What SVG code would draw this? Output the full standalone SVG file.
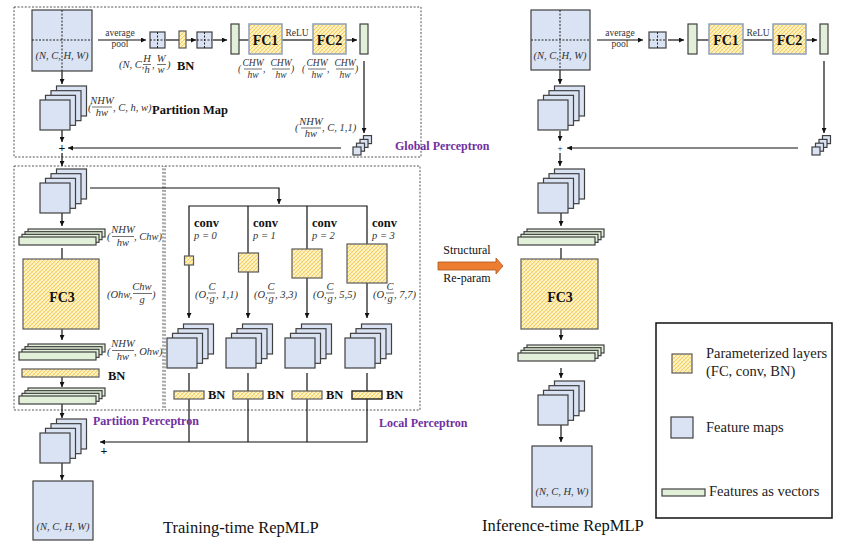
<svg xmlns="http://www.w3.org/2000/svg" width="859" height="547" viewBox="0 0 859 547" font-family="Liberation Serif, DejaVu Serif, serif">
<style>
.fm{fill:#DAE3F3;stroke:#404040;stroke-width:1.2}
.par{fill:url(#hatch);stroke:#5a5a5a;stroke-width:1.2}
.parb{fill:url(#hatch);stroke:#8FA0BA;stroke-width:1.5}
.vec{fill:#E2F0D9;stroke:#404040;stroke-width:1.2}
.ln{fill:none;stroke:#111;stroke-width:1.2}
.ar{marker-end:url(#ah)}
.dbox{fill:none;stroke:#555;stroke-width:1;stroke-dasharray:2 1.6}
.dx{stroke:#222;stroke-width:1;stroke-dasharray:2 1.5}
text{font-family:'Liberation Serif','DejaVu Serif',serif;fill:#111}
.m{font-style:italic;font-size:10.5px;fill:#333}
.f9{font-size:9.5px}
.mc{text-anchor:middle}
.b{font-weight:bold;font-size:12.5px}
.fc{font-weight:bold;font-size:14px;text-anchor:middle}
.pur{fill:#7030A0;font-weight:bold;font-size:12px}
.sm{font-size:9.5px;fill:#333;text-anchor:middle}
.fr{stroke:#333;stroke-width:0.7}
.lg{font-size:14.5px;fill:#222}
.ttl{font-size:16.5px;fill:#111}
</style>
<defs>
<pattern id="hatch" patternUnits="userSpaceOnUse" width="4" height="4">
<rect width="4" height="4" fill="#FFF3C8"/>
<path d="M0,4L4,0M-1,1L1,-1M3,5L5,3" stroke="#F3C13E" stroke-width="0.8"/>
<path d="M0,0L4,4M-1,3L1,5M3,-1L5,1" stroke="#F9DA80" stroke-width="0.6"/>
</pattern>
<marker id="ah" viewBox="0 0 6 6" refX="6" refY="3" markerWidth="5" markerHeight="5" orient="auto" markerUnits="userSpaceOnUse">
<path d="M0,0L6,3L0,6z" fill="#111"/>
</marker>
<g id="stk">
<rect class="fm" x="16.5" y="-14" width="30" height="30"/>
<rect class="fm" x="11" y="-9.33" width="30" height="30"/>
<rect class="fm" x="5.5" y="-4.67" width="30" height="30"/>
<rect class="fm" x="0" y="0" width="30" height="30"/>
</g>
<g id="stks">
<rect class="fm" x="10.5" y="-11.4" width="8" height="8"/>
<rect class="fm" x="7" y="-7.6" width="8" height="8"/>
<rect class="fm" x="3.5" y="-3.8" width="8" height="8"/>
<rect class="fm" x="0" y="0" width="8" height="8"/>
</g>
<g id="vst">
<rect class="vec" x="9" y="-8" width="77" height="8"/>
<rect class="vec" x="6" y="-5.33" width="77" height="8"/>
<rect class="vec" x="3" y="-2.67" width="77" height="8"/>
<rect class="vec" x="0" y="0" width="77" height="8"/>
</g>
</defs>
<rect width="859" height="547" fill="#fff"/>

<!-- dashed module boxes -->
<g id="boxes">
<rect class="dbox" x="14" y="7" width="407" height="150"/>
<rect class="dbox" x="14" y="166" width="149" height="244"/>
<rect class="dbox" x="165" y="166" width="255" height="244"/>
</g>

<!-- connectors -->
<g id="connectors">
<path class="ln ar" d="M62,71V84"/>
<path class="ln ar" d="M98,40H146"/>
<path class="ln" d="M166,40H179"/>
<path class="ln ar" d="M186,40H196"/>
<path class="ln ar" d="M213,40H227"/>
<path class="ln" d="M239,40H249"/>
<path class="ln" d="M282,40H313"/>
<path class="ln ar" d="M346,40H357"/>
<path class="ln ar" d="M364,61V133"/>
<path class="ln ar" d="M341,148H68"/>
<path class="ln ar" d="M62,130V142"/>
<path class="ln ar" d="M62,153V166"/>
<path class="ln ar" d="M90,188H279V204"/>
<path class="ln" d="M189,256V206H367V244"/>
<path class="ln" d="M248,206V253"/>
<path class="ln" d="M307,206V249"/>
<path class="ln ar" d="M189,265V318"/>
<path class="ln ar" d="M248,272V318"/>
<path class="ln ar" d="M307,278V318"/>
<path class="ln ar" d="M367,283V318"/>
<path class="ln" d="M189,373V442"/>
<path class="ln" d="M248,373V442"/>
<path class="ln" d="M307,373V442"/>
<path class="ln ar" d="M367,373V442H100"/>
<path class="ln ar" d="M62,213V226"/>
<path class="ln" d="M62,248V259"/>
<path class="ln ar" d="M62,329V340"/>
<path class="ln ar" d="M62,377V387"/>
<path class="ln ar" d="M62,404V418"/>
<path class="ln ar" d="M62,463V480"/>
<!-- inference -->
<path class="ln ar" d="M560,70V84"/>
<path class="ln ar" d="M597,40H643"/>
<path class="ln ar" d="M668,40H684"/>
<path class="ln" d="M697,40H709"/>
<path class="ln" d="M743,40H773"/>
<path class="ln ar" d="M806,40H817"/>
<path class="ln ar" d="M824,61V133"/>
<path class="ln ar" d="M798,148H567"/>
<path class="ln ar" d="M560,131V141"/>
<path class="ln ar" d="M560,153V166"/>
<path class="ln ar" d="M561,213V226"/>
<path class="ln" d="M561,248V259"/>
<path class="ln ar" d="M561,329V340"/>
<path class="ln ar" d="M561,368V378"/>
<path class="ln ar" d="M561,425V442"/>
</g>

<!-- ===== Training-time: Global Perceptron ===== -->
<g id="input-train">
<rect class="fm" x="32" y="10" width="60" height="61"/>
<text class="m mc" x="62" y="59">(N, C, H, W)</text>
<line class="dx" x1="62" y1="10" x2="62" y2="71"/>
<line class="dx" x1="32" y1="40" x2="92" y2="40"/>
</g>
<g id="partition-map">
<use href="#stk" x="40" y="100"/>
<text class="m" x="88" y="111">(</text>
<text class="m mc" x="102" y="104">NHW</text>
<line class="fr" x1="92" y1="107" x2="112" y2="107"/>
<text class="m mc" x="102" y="116">hw</text>
<text class="m" x="113" y="111">, C, h, w)</text>
<text class="b" x="152" y="114" font-size="13">Partition Map</text>
</g>
<g id="plus-global">
<text class="mc" x="62" y="152" font-size="12" font-weight="bold">+</text>
</g>
<g id="avgpool-label">
<text class="sm" x="120" y="36">average</text>
<text class="sm" x="120" y="47">pool</text>
</g>
<g id="pooled1">
<rect class="fm" x="150" y="32" width="15" height="16"/>
<line class="dx" x1="157.5" y1="32" x2="157.5" y2="48"/>
<line class="dx" x1="150" y1="40" x2="165" y2="40"/>
<text class="m" x="119" y="68">(N, C,</text>
<text class="m mc" x="147" y="62">H</text>
<line class="fr" x1="143" y1="64.5" x2="151" y2="64.5"/>
<text class="m mc" x="147" y="73">h</text>
<text class="m" x="152" y="68">,</text>
<text class="m mc" x="161" y="62">W</text>
<line class="fr" x1="157" y1="64.5" x2="166" y2="64.5"/>
<text class="m mc" x="161" y="73">w</text>
<text class="m" x="167" y="68">)</text>
</g>
<g id="bn-global">
<rect class="par" x="179" y="31" width="7" height="17"/>
<text class="b" x="177" y="70">BN</text>
</g>
<g id="pooled2">
<rect class="fm" x="197" y="32" width="15" height="16"/>
<line class="dx" x1="204.5" y1="32" x2="204.5" y2="48"/>
<line class="dx" x1="197" y1="40" x2="212" y2="40"/>
</g>
<g id="vec-in">
<rect class="vec" x="231" y="24" width="8" height="30"/>
</g>
<g id="fc1">
<rect class="parb" x="249" y="24" width="33" height="30"/>
<text class="fc" x="265.5" y="44.5">FC1</text>
<text class="m f9" x="238" y="72">(</text>
<text class="m f9 mc" x="253" y="66">CHW</text>
<line class="fr" x1="244" y1="69" x2="262" y2="69"/>
<text class="m f9 mc" x="253" y="78">hw</text>
<text class="m f9" x="263" y="72">,</text>
<text class="m f9 mc" x="281" y="66">CHW</text>
<line class="fr" x1="272" y1="69" x2="290" y2="69"/>
<text class="m f9 mc" x="281" y="78">hw</text>
<text class="m f9" x="291" y="72">)</text>
</g>
<g id="relu">
<text class="sm" x="297" y="36">ReLU</text>
</g>
<g id="fc2">
<rect class="parb" x="313" y="24" width="33" height="30"/>
<text class="fc" x="329.5" y="44.5">FC2</text>
<text class="m f9" x="302" y="72">(</text>
<text class="m f9 mc" x="317" y="66">CHW</text>
<line class="fr" x1="308" y1="69" x2="326" y2="69"/>
<text class="m f9 mc" x="317" y="78">hw</text>
<text class="m f9" x="327" y="72">,</text>
<text class="m f9 mc" x="345" y="66">CHW</text>
<line class="fr" x1="336" y1="69" x2="354" y2="69"/>
<text class="m f9 mc" x="345" y="78">hw</text>
<text class="m f9" x="355" y="72">)</text>
</g>
<g id="vec-out">
<rect class="vec" x="360" y="24" width="8" height="30"/>
</g>
<g id="global-out">
<use href="#stks" x="353" y="147"/>
<text class="m" x="295" y="131">(</text>
<text class="m mc" x="311" y="125">NHW</text>
<line class="fr" x1="301" y1="128" x2="321" y2="128"/>
<text class="m mc" x="311" y="137">hw</text>
<text class="m" x="322" y="131">, C, 1,1)</text>
</g>
<g id="label-global">
<text class="pur" x="395" y="150">Global Perceptron</text>
</g>

<!-- ===== Partition Perceptron ===== -->
<g id="partition-in">
<use href="#stk" x="40" y="183"/>
</g>
<g id="vec1">
<use href="#vst" x="19" y="237"/>
<text class="m" x="107" y="240">(</text>
<text class="m mc" x="123" y="233">NHW</text>
<line class="fr" x1="112" y1="236.5" x2="134" y2="236.5"/>
<text class="m mc" x="123" y="246">hw</text>
<text class="m" x="134" y="240">, Chw)</text>
</g>
<g id="fc3">
<rect class="par" x="23" y="259" width="76" height="70"/>
<text class="fc" x="62" y="302">FC3</text>
<text class="m" x="107" y="298">(Ohw,</text>
<text class="m mc" x="142" y="290">Chw</text>
<line class="fr" x1="133" y1="293.5" x2="152" y2="293.5"/>
<text class="m mc" x="142" y="303">g</text>
<text class="m" x="152" y="298">)</text>
</g>
<g id="vec2">
<use href="#vst" x="19" y="352"/>
<text class="m" x="107" y="355">(</text>
<text class="m mc" x="123" y="347">NHW</text>
<line class="fr" x1="112" y1="350.5" x2="134" y2="350.5"/>
<text class="m mc" x="123" y="360">hw</text>
<text class="m" x="134" y="355">, Ohw)</text>
</g>
<g id="bn-partition">
<rect class="par" x="22" y="369" width="77" height="8"/>
<text class="b" x="108" y="380">BN</text>
</g>
<g id="vec3">
<use href="#vst" x="19" y="396"/>
</g>
<g id="label-partition">
<text class="pur" x="93" y="425">Partition Perceptron</text>
</g>

<!-- ===== Local Perceptron ===== -->
<g id="branch-p0">
<text class="b" x="194" y="227">conv</text>
<text class="m" x="194" y="239">p = 0</text>
<rect class="par" x="184.5" y="256" width="9" height="9"/>
<text class="m" x="195" y="298">(O,</text>
<text class="m mc" x="212" y="290">C</text>
<line class="fr" x1="208" y1="293" x2="216" y2="293"/>
<text class="m mc" x="212" y="302">g</text>
<text class="m" x="216" y="298">, 1,1)</text>
<use href="#stk" x="167" y="338"/>
<rect class="par" x="174" y="391" width="30" height="8"/>
<text class="b" x="208" y="399">BN</text>
</g>
<g id="branch-p1">
<text class="b" x="253" y="227">conv</text>
<text class="m" x="253" y="239">p = 1</text>
<rect class="par" x="238.5" y="253" width="20" height="19"/>
<text class="m" x="254" y="298">(O,</text>
<text class="m mc" x="271" y="290">C</text>
<line class="fr" x1="267" y1="293" x2="275" y2="293"/>
<text class="m mc" x="271" y="302">g</text>
<text class="m" x="275" y="298">, 3,3)</text>
<use href="#stk" x="226" y="338"/>
<rect class="par" x="233" y="391" width="30" height="8"/>
<text class="b" x="267" y="399">BN</text>
</g>
<g id="branch-p2">
<text class="b" x="312" y="227">conv</text>
<text class="m" x="312" y="239">p = 2</text>
<rect class="par" x="292" y="249" width="30" height="29"/>
<text class="m" x="313" y="298">(O,</text>
<text class="m mc" x="330" y="290">C</text>
<line class="fr" x1="326" y1="293" x2="334" y2="293"/>
<text class="m mc" x="330" y="302">g</text>
<text class="m" x="334" y="298">, 5,5)</text>
<use href="#stk" x="285" y="338"/>
<rect class="par" x="292" y="391" width="30" height="8"/>
<text class="b" x="326" y="399">BN</text>
</g>
<g id="branch-p3">
<text class="b" x="372" y="227">conv</text>
<text class="m" x="372" y="239">p = 3</text>
<rect class="par" x="347" y="244" width="40" height="39"/>
<text class="m" x="373" y="298">(O,</text>
<text class="m mc" x="390" y="290">C</text>
<line class="fr" x1="386" y1="293" x2="394" y2="293"/>
<text class="m mc" x="390" y="302">g</text>
<text class="m" x="394" y="298">, 7,7)</text>
<use href="#stk" x="345" y="338"/>
<rect class="par" x="352" y="391" width="30" height="8" style="stroke:#222;stroke-width:1.4"/>
<text class="b" x="386" y="399">BN</text>
</g>
<g id="label-local">
<text class="pur" x="379" y="427">Local Perceptron</text>
</g>

<!-- ===== Training output ===== -->
<g id="sum-train">
<text class="mc" x="104" y="455" font-size="12" font-weight="bold">+</text>
<use href="#stk" x="40" y="433"/>
</g>
<g id="output-train">
<rect class="fm" x="33" y="481" width="60" height="59"/>
<text class="m mc" x="63" y="530">(N, C, H, W)</text>
</g>
<text class="ttl" x="163" y="533">Training-time RepMLP</text>

<!-- ===== Structural re-param arrow ===== -->
<g id="reparam">
<path d="M438,262H496V258L503,266L496,274V270H438Z" fill="#ED7D31" stroke="#A9561E" stroke-width="0.8"/>
<text class="mc" x="467" y="254" font-size="12" fill="#222">Structural</text>
<text class="mc" x="467" y="282" font-size="12" fill="#222">Re-param</text>
</g>

<!-- ===== Inference-time ===== -->
<g id="input-inf">
<rect class="fm" x="531" y="10" width="59" height="60"/>
<text class="m mc" x="560" y="59">(N, C, H, W)</text>
<line class="dx" x1="560" y1="10" x2="560" y2="70"/>
<line class="dx" x1="531" y1="40" x2="590" y2="40"/>
</g>
<g id="avgpool-label-inf">
<text class="sm" x="620" y="36">average</text>
<text class="sm" x="620" y="47">pool</text>
</g>
<g id="pooled-inf">
<rect class="fm" x="649" y="32" width="17" height="16"/>
<line class="dx" x1="657.5" y1="32" x2="657.5" y2="48"/>
<line class="dx" x1="649" y1="40" x2="666" y2="40"/>
</g>
<g id="vec-in-inf">
<rect class="vec" x="688" y="24" width="9" height="30"/>
</g>
<g id="fc1-inf">
<rect class="parb" x="709" y="24" width="34" height="30"/>
<text class="fc" x="726" y="44.5">FC1</text>
</g>
<g id="relu-inf">
<text class="sm" x="758" y="36">ReLU</text>
</g>
<g id="fc2-inf">
<rect class="parb" x="773" y="24" width="33" height="30"/>
<text class="fc" x="789.5" y="44.5">FC2</text>
</g>
<g id="vec-out-inf">
<rect class="vec" x="820" y="24" width="8" height="30"/>
</g>
<g id="global-out-inf">
<use href="#stks" x="812" y="147"/>
</g>
<g id="partition-map-inf">
<use href="#stk" x="538" y="100"/>
</g>
<g id="plus-inf">
<text class="mc" x="560" y="151" font-size="9">+</text>
</g>
<g id="partition-in-inf">
<use href="#stk" x="538" y="183"/>
</g>
<g id="vec1-inf">
<use href="#vst" x="518" y="237"/>
</g>
<g id="fc3-inf">
<rect class="par" x="521" y="259" width="77" height="70"/>
<text class="fc" x="560" y="302">FC3</text>
</g>
<g id="vec2-inf">
<use href="#vst" x="518" y="353"/>
</g>
<g id="maps-inf">
<use href="#stk" x="538" y="395"/>
</g>
<g id="output-inf">
<rect class="fm" x="532" y="446" width="60" height="61"/>
<text class="m mc" x="562" y="495">(N, C, H, W)</text>
</g>
<text class="ttl" x="482" y="531">Inference-time RepMLP</text>

<!-- ===== Legend ===== -->
<g id="legend">
<rect x="656" y="323" width="176" height="195" fill="#fff" stroke="#111" stroke-width="1.5"/>
<rect class="par" x="672" y="354" width="20" height="19"/>
<text class="lg" x="706" y="358">Parameterized layers</text>
<text class="lg" x="706" y="376">(FC, conv, BN)</text>
<rect class="fm" x="671" y="417" width="22" height="21"/>
<text class="lg" x="706" y="432">Feature maps</text>
<rect class="vec" x="662" y="489" width="43" height="7"/>
<text class="lg" x="709" y="496">Features as vectors</text>
</g>
</svg>
